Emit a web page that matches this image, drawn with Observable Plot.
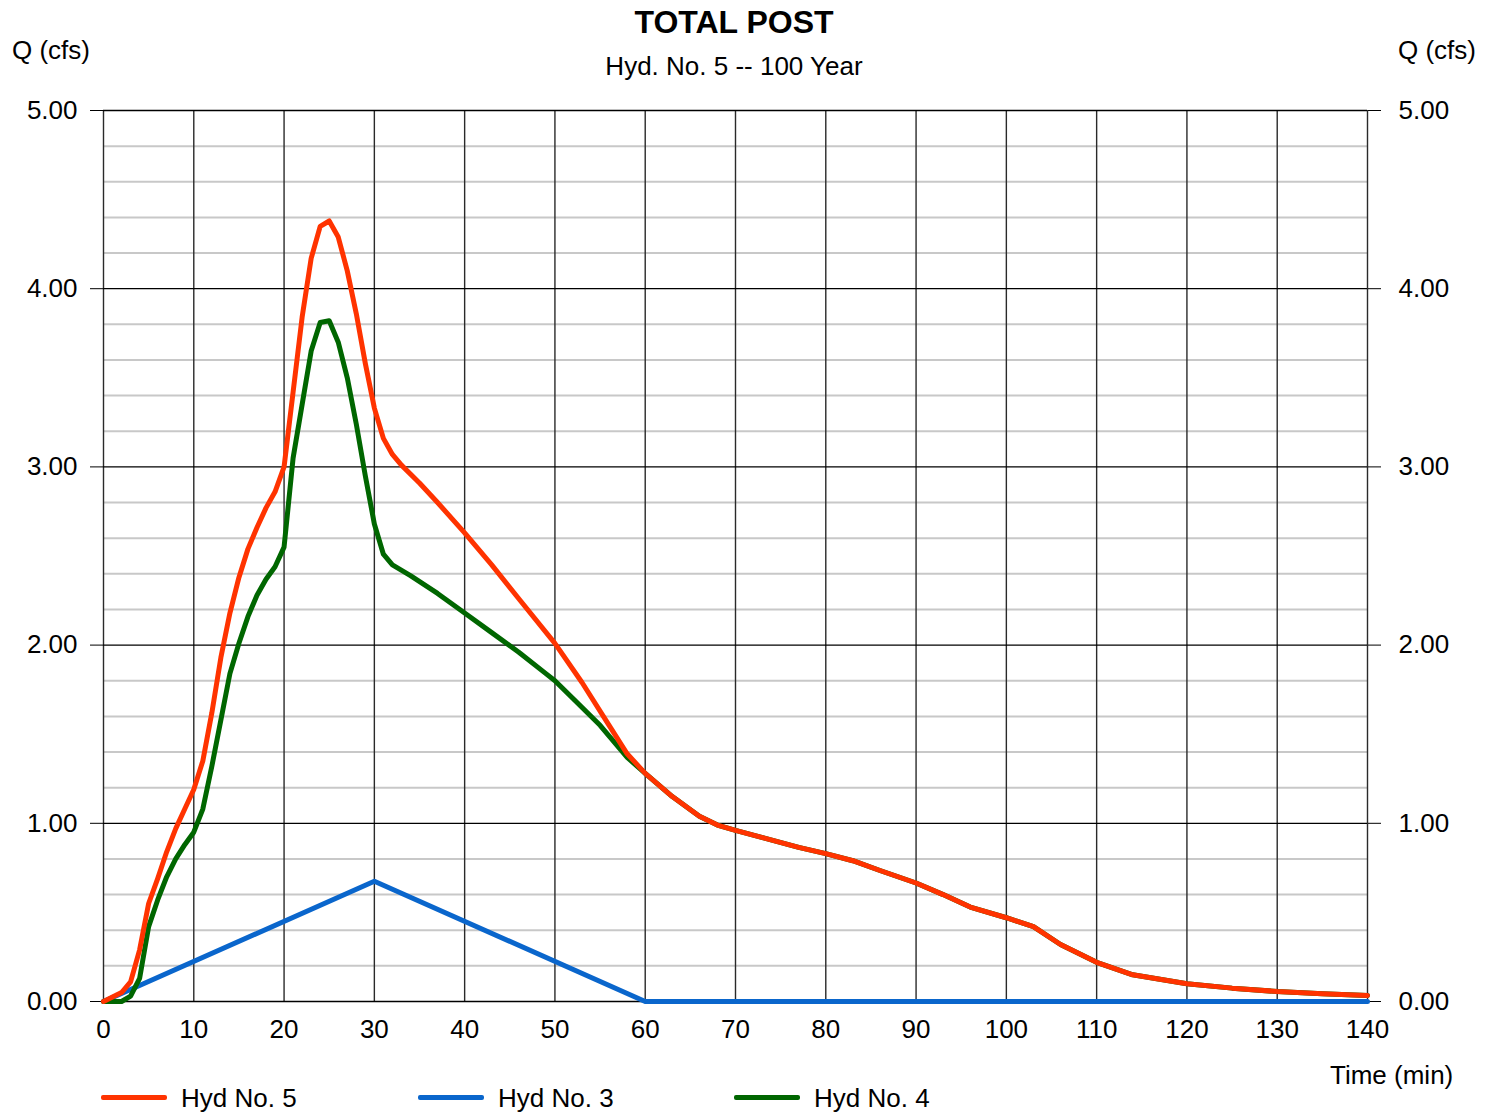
<!DOCTYPE html>
<html>
<head>
<meta charset="utf-8">
<script src="https://cdn.jsdelivr.net/npm/d3@7"></script>
<script src="https://cdn.jsdelivr.net/npm/@observablehq/plot@0.6"></script>
<style>
  html, body { margin: 0; padding: 0; background: #fff; }
  #wrap { position: relative; width: 1496px; height: 1112px; font-family: Arial, "Liberation Sans", sans-serif; color: #000; overflow: hidden; }
  #wrap svg { position: absolute; left: 0; top: 0; }
  .t { position: absolute; line-height: 1; white-space: nowrap; font-size: 26px; }
  .sw { position: absolute; height: 5px; border-radius: 2px; }
</style>
</head>
<body>
<div id="wrap">
  <div id="chart"></div>
  <div class="t" style="left:0;width:1468px;text-align:center;top:6px;font-size:32px;font-weight:bold;">TOTAL POST</div>
  <div class="t" style="left:0;width:1468px;text-align:center;top:53px;">Hyd. No. 5 -- 100 Year</div>
  <div class="t" style="left:12px;top:37px;">Q (cfs)</div>
  <div class="t" style="left:1398px;top:37px;">Q (cfs)</div>
  <div class="t" style="left:1330px;top:1062px;">Time (min)</div>
  <div id="legend"></div>
</div>
<script>
// Hyd No. 5 (TOTAL POST)
const tHyd5 = [0,2,3,4,5,6,7,8,9,10,11,12,13,14,15,16,17,18,19,20,21,22,23,24,25,26,27,28,29,30,31,32,33,35,37,40,43,46,50,53,56,58,60,63,66,68,70,73,77,80,83,86,90,93,96,100,103,106,110,114,120,125,130,135,140];
const qHyd5 = [0,0.05,0.11,0.29,0.55,0.69,0.84,0.97,1.08,1.19,1.35,1.62,1.93,2.18,2.38,2.54,2.66,2.77,2.86,3.00,3.42,3.84,4.17,4.35,4.38,4.29,4.10,3.86,3.58,3.33,3.16,3.07,3.01,2.91,2.80,2.63,2.45,2.26,2.01,1.79,1.55,1.39,1.28,1.15,1.04,0.99,0.96,0.92,0.865,0.83,0.79,0.735,0.665,0.60,0.53,0.47,0.42,0.32,0.22,0.15,0.10,0.075,0.056,0.043,0.034];
// Hyd No. 3
const tHyd3 = [0,30,60,140];
const qHyd3 = [0,0.675,0,0];
// Hyd No. 4
const tHyd4 = [0,1,2,3,4,5,6,7,8,9,10,11,12,13,14,15,16,17,18,19,20,21,22,23,24,25,26,27,28,29,30,31,32,34,37,40,43,46,49,50,52,55,58,60,63,66,68,70,73,77,80,83,86,90,93,96,100,103,106,110,114,120,125,130,135,140];
const qHyd4 = [0,0,0,0.03,0.13,0.42,0.57,0.70,0.80,0.88,0.95,1.08,1.32,1.58,1.84,2.01,2.16,2.28,2.37,2.44,2.55,3.05,3.35,3.65,3.81,3.82,3.70,3.50,3.24,2.95,2.68,2.51,2.45,2.39,2.29,2.18,2.07,1.96,1.84,1.80,1.70,1.55,1.37,1.28,1.15,1.04,0.99,0.96,0.92,0.865,0.83,0.79,0.735,0.665,0.60,0.53,0.47,0.42,0.32,0.22,0.15,0.10,0.075,0.056,0.043,0.034];

const xTicks = [0,10,20,30,40,50,60,70,80,90,100,110,120,130,140];
const yTicks = [0,1,2,3,4,5];
const yMinor = [0.2,0.4,0.6,0.8,1.2,1.4,1.6,1.8,2.2,2.4,2.6,2.8,3.2,3.4,3.6,3.8,4.2,4.4,4.6,4.8];

const seriesNames = ["Hyd No. 5", "Hyd No. 3", "Hyd No. 4"];
const seriesColors = ["#ff3300", "#0a66cc", "#006600"];

const toRows = (ts, qs) => ts.map((t, i) => ({t, q: qs[i]}));
const d5 = toRows(tHyd5, qHyd5);
const d3s = toRows(tHyd3, qHyd3);
const d4 = toRows(tHyd4, qHyd4);

const fmt = d3.format(".2f");

const chart = Plot.plot({
  width: 1496,
  height: 1112,
  marginLeft: 103,
  marginRight: 129,
  marginTop: 110,
  marginBottom: 111,
  style: { fontFamily: "Arial, 'Liberation Sans', sans-serif", fontSize: "26px", color: "#000", background: "transparent", overflow: "visible" },
  x: { domain: [0, 140] },
  y: { domain: [0, 5] },
  marks: [
    Plot.ruleY(yMinor, { stroke: "#c8c8c8", strokeWidth: 2 }),
    Plot.ruleX(xTicks, { stroke: "#2a2a2a", strokeWidth: 1.4 }),
    Plot.ruleY(yTicks, { stroke: "#000", strokeWidth: 1.3 }),
    Plot.axisY({ anchor: "left", ticks: yTicks, tickFormat: fmt, tickSize: 13, tickPadding: 13, label: null, stroke: "#000" }),
    Plot.axisY({ anchor: "right", ticks: yTicks, tickFormat: fmt, tickSize: 13, tickPadding: 18, label: null, stroke: "#000" }),
    Plot.axisX({ ticks: xTicks, tickSize: 0, tickPadding: 18, label: null }),
    Plot.line(d3s, { x: "t", y: "q", stroke: seriesColors[1], strokeWidth: 5, strokeLinejoin: "round" }),
    Plot.line(d4, { x: "t", y: "q", stroke: seriesColors[2], strokeWidth: 5, strokeLinejoin: "round" }),
    Plot.line(d5, { x: "t", y: "q", stroke: seriesColors[0], strokeWidth: 5, strokeLinejoin: "round" })
  ]
});
document.getElementById("chart").appendChild(chart);

// legend
const legendX = [101, 418, 734];
const legend = document.getElementById("legend");
seriesNames.forEach((name, i) => {
  const sw = document.createElement("div");
  sw.className = "sw";
  sw.style.left = legendX[i] + "px";
  sw.style.top = "1095px";
  sw.style.width = "66px";
  sw.style.background = seriesColors[i];
  legend.appendChild(sw);
  const lb = document.createElement("div");
  lb.className = "t";
  lb.style.left = (legendX[i] + 80) + "px";
  lb.style.top = "1085px";
  lb.textContent = name;
  legend.appendChild(lb);
});
</script>
</body>
</html>
